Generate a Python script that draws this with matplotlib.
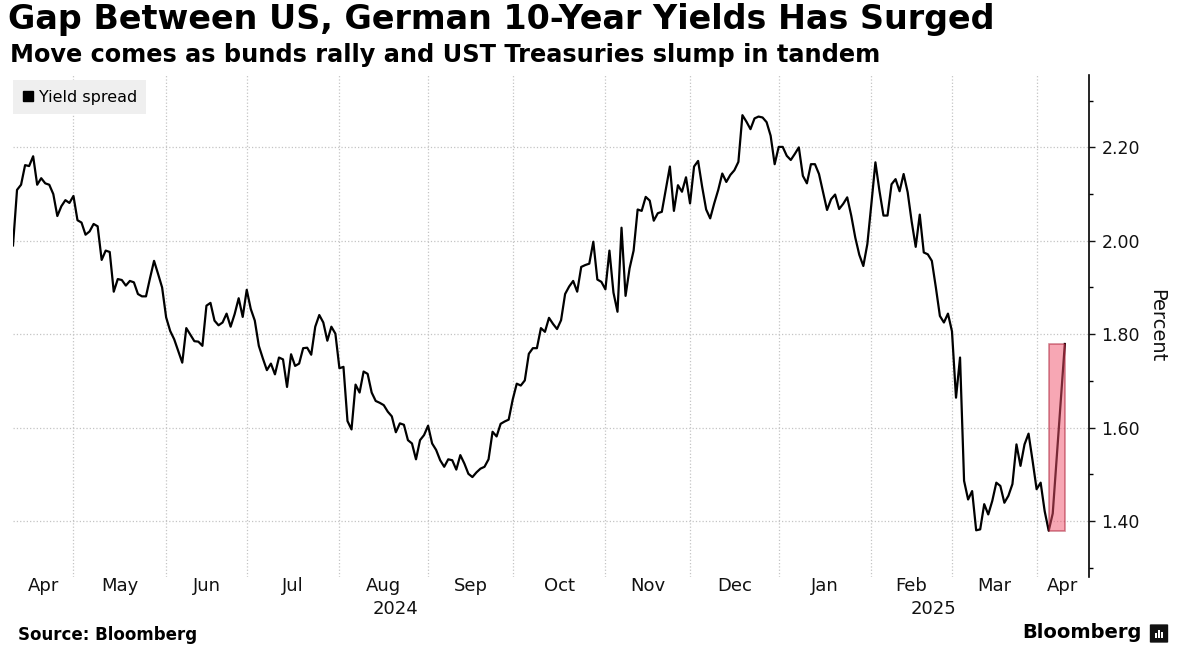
import numpy as np
import pandas as pd
import matplotlib
matplotlib.use('Agg')
import matplotlib.pyplot as plt
import matplotlib.transforms as mtransforms
from matplotlib.lines import Line2D
from matplotlib.patches import Rectangle, FancyBboxPatch
from matplotlib.ticker import FixedLocator, FuncFormatter

# US minus German 10y yield spread, one value per weekday from start_date (nan = not readable)
start_date = '2024-04-10'
axis_days = 268  # weekdays shown on the x axis

spread = [
    1.990, 2.109, 2.120, 2.162, 2.160, 2.181, 2.120, 2.134, 2.123, 2.120,
    2.100, 2.053, 2.074, 2.087, 2.081, 2.096, 2.044, 2.039, 2.013, 2.020,
    2.036, 2.031, 1.959, 1.979, 1.976, 1.891, 1.918, 1.916, 1.904, 1.914,
    1.911, 1.886, 1.881, 1.881, 1.920, 1.957, 1.929, 1.900, 1.836, 1.807,
    1.789, 1.764, 1.739, 1.813, 1.799, 1.785, 1.784, 1.775, 1.861, 1.867,
    1.829, 1.819, 1.825, 1.844, 1.816, 1.843, 1.877, 1.837, 1.895, 1.854,
    1.829, 1.775, 1.748, 1.723, 1.737, 1.714, 1.750, 1.746, 1.687, 1.757,
    1.732, 1.737, 1.770, 1.771, 1.756, 1.816, 1.841, 1.825, 1.786, 1.816,
    1.801, 1.727, 1.730, 1.614, 1.596, 1.692, 1.675, 1.720, 1.715, 1.675,
    1.657, 1.653, 1.648, 1.634, 1.624, 1.590, 1.609, 1.606, 1.573, 1.566,
    1.532, 1.573, 1.584, 1.604, 1.566, 1.552, 1.530, 1.516, 1.532, 1.530,
    1.510, 1.541, 1.523, 1.501, 1.494, 1.504, 1.512, 1.516, 1.532, 1.591,
    1.581, 1.608, 1.613, 1.617, 1.660, 1.694, 1.690, 1.701, 1.758, 1.770,
    1.770, 1.813, 1.805, 1.835, 1.822, 1.811, 1.830, 1.886, 1.902, 1.914,
    1.891, 1.944, 1.948, 1.951, 1.998, 1.917, 1.912, 1.896, 1.979, 1.889,
    1.848, 2.028, 1.882, 1.941, 1.979, 2.067, 2.064, 2.094, 2.086, 2.043,
    2.059, 2.062, 2.110, 2.159, 2.064, 2.119, 2.105, 2.136, 2.080, 2.159,
    2.171, 2.116, 2.067, 2.048, 2.080, 2.109, 2.144, 2.126, 2.141, 2.151,
    2.169, 2.269, 2.255, 2.239, 2.262, 2.266, 2.264, 2.254, 2.225, 2.164,
    2.201, 2.201, 2.182, 2.173, 2.186, 2.200, 2.139, 2.123, 2.164, 2.164,
    2.143, 2.104, 2.066, 2.089, 2.099, 2.068, 2.079, 2.093, 2.054, 2.007,
    1.970, 1.946, 1.993, 2.079, 2.168, 2.107, 2.054, 2.054, 2.121, 2.132,
    2.106, 2.143, 2.104, 2.041, 1.987, 2.056, 1.975, 1.971, 1.957, 1.900,
    1.839, 1.825, 1.844, 1.806, 1.664, 1.750, 1.486, 1.446, 1.464, 1.380,
    1.382, 1.436, 1.414, 1.443, 1.482, 1.475, 1.439, 1.454, 1.479, 1.564,
    1.518, 1.564, 1.587, 1.529, 1.468, 1.482, 1.421, 1.379, 1.416, np.nan,
    np.nan, 1.779,
]

major_ticks = [1.4, 1.6, 1.8, 2.0, 2.2]
minor_ticks = [1.3, 1.5, 1.7, 1.9, 2.1, 2.3]

title = 'Gap Between US, German 10-Year Yields Has Surged'
subtitle = 'Move comes as bunds rally and UST Treasuries slump in tandem'
legend_label = 'Yield spread'
y_label = 'Percent'
source = 'Source: Bloomberg'

W, H = 1182, 652

s = pd.Series(spread, dtype=float).dropna()
days = pd.bdate_range(start_date, periods=axis_days)

fig = plt.figure(figsize=(W / 100, H / 100), dpi=100)
ax = fig.add_axes([13 / W, 1 - 577 / H, (1089 - 13) / W, (577 - 75) / H])

ax.plot(s.index, s.values, color='black', lw=1.6, solid_joinstyle='round', zorder=3)

# highlight the last jump, from the low to the final print
tail = s.iloc[-5:]
x0, y0 = tail.idxmin(), tail.min()
x1, y1 = tail.index[-1], tail.iloc[-1]
ax.add_patch(Rectangle((x0, y0), x1 - x0, y1 - y0, facecolor='#f0506a', alpha=0.5,
                       edgecolor='#a8162f', lw=1.2, zorder=4))

ax.set_xlim(0, axis_days - 1)
ax.set_ylim(1.28, 2.355)

# month boundaries on a weekday axis
month_start = [i for i in range(1, axis_days) if days[i].month != days[i - 1].month]
edges = [0] + month_start + [axis_days - 1]
ax.set_xticks(month_start)
ax.set_xticklabels([])
ax.tick_params(axis='x', length=0)

trans = mtransforms.blended_transform_factory(ax.transData, ax.transAxes)
for lo, hi in zip(edges[:-1], edges[1:]):
    ax.text((lo + hi) / 2, -0.017, days[lo].strftime('%b'), transform=trans,
            ha='center', va='center', fontsize=13, color='#111111')

years = sorted(set(days.year))
for yr in years:
    idx = [i for i in range(axis_days) if days[i].year == yr]
    lo = idx[0]
    hi = idx[-1] + 1 if idx[-1] + 1 < axis_days else axis_days - 1
    ax.text((lo + hi) / 2, -0.063, str(yr), transform=trans,
            ha='center', va='center', fontsize=13, color='#111111')

ax.yaxis.tick_right()
ax.yaxis.set_major_locator(FixedLocator(major_ticks))
ax.yaxis.set_minor_locator(FixedLocator(minor_ticks))
ax.yaxis.set_major_formatter(FuncFormatter(lambda v, p: f'{v:.2f}'))
ax.tick_params(axis='y', which='major', length=4, width=1, labelsize=12.5, pad=5, colors='#111111')
ax.tick_params(axis='y', which='minor', length=3, width=1)

ax.grid(True, which='major', color='#c4c4c4', linestyle=':', lw=0.9)
for side in ['top', 'left', 'bottom']:
    ax.spines[side].set_visible(False)
ax.spines['right'].set_color('black')
ax.spines['right'].set_linewidth(1.2)

fig.text(1157 / W, 1 - 326 / H, y_label, rotation=270, ha='center', va='center',
         fontsize=14, color='#111111')

handle = Line2D([], [], marker='s', color='black', linestyle='none', markersize=7)
leg = ax.legend([handle], [legend_label], loc='upper left', bbox_to_anchor=(0, 1 - 5 / 502),
                borderaxespad=0, frameon=True, fancybox=False, handlelength=0.7,
                handletextpad=0.3, borderpad=0.6, fontsize=11.5)
leg.get_frame().set_facecolor('#efefef')
leg.get_frame().set_edgecolor('none')
leg.get_frame().set_alpha(1)

fig.text(8 / W, 1 - 20 / H, title, fontsize=24, weight='bold', va='center', ha='left')
fig.text(10 / W, 1 - 55 / H, subtitle, fontsize=17.3, weight='bold', va='center', ha='left')
fig.text(18 / W, 1 - 635 / H, source, fontsize=12, weight='bold', va='center', ha='left')
fig.text(1142 / W, 1 - 633 / H, 'Bloomberg', fontsize=14, weight='bold', va='center', ha='right')

# small logo tile
fig.patches.append(FancyBboxPatch((1151 / W, 1 - 642 / H), 16 / W, 17 / H,
                                  boxstyle='round,pad=0.001', transform=fig.transFigure,
                                  facecolor='#111111', edgecolor='none'))
for bx, bh in [(1155, 5), (1158, 8), (1161, 6)]:
    fig.patches.append(Rectangle((bx / W, 1 - 638 / H), 1.6 / W, bh / H,
                                 transform=fig.transFigure, facecolor='white', edgecolor='none'))

fig.savefig('out.png', dpi=100)
